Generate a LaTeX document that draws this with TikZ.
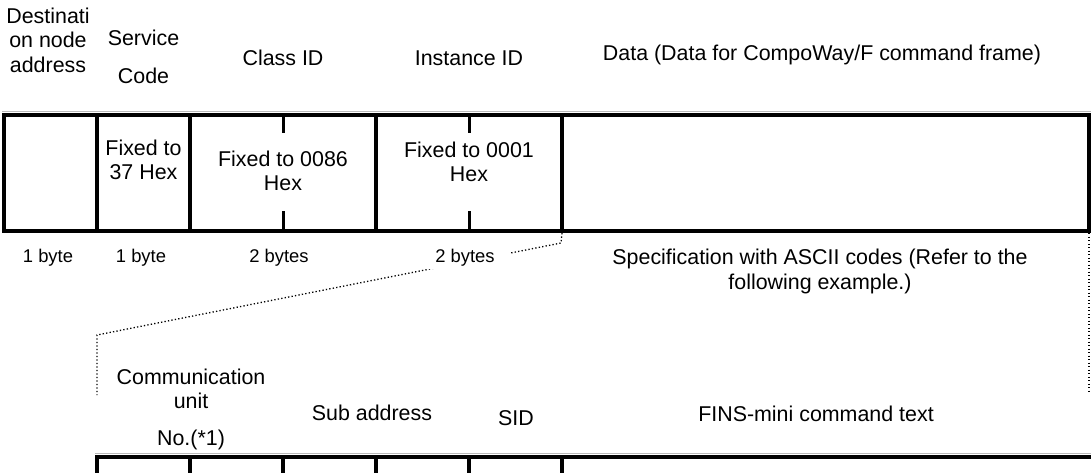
\documentclass[tikz,border=0pt]{standalone}
\usepackage{fontspec}
\setmainfont{Liberation Sans}
\usepackage{tikz}

\begin{document}
\begin{tikzpicture}[x=1pt, y=-1pt,
  hbar/.style={line width=4.5pt},
  vbar/.style={line width=3.5pt},
  tickmark/.style={line width=3pt},
  edge/.style={line width=0.7pt, gray!55},
  leader/.style={line width=1.3pt, dash pattern=on 1.3pt off 2.2pt},
  lbl/.style={font=\fontsize{21.4}{24.5}\selectfont, align=center, inner sep=0pt},
  bytes/.style={font=\fontsize{18.4}{22}\selectfont, inner sep=0pt}]
  \useasboundingbox (0,0) rectangle (1091,472);
  \clip (0,0) rectangle (1091,472);
  % command frame
  \draw[edge] (2,111.5) -- (1091,111.5);
  \foreach \x in {4,97,190,376,562,1089}
    \draw[vbar] (\x,115) -- (\x,231);
  \foreach \x in {283,469} {
    \draw[tickmark] (\x,115) -- (\x,133);
    \draw[tickmark] (\x,211) -- (\x,231);
  }
  \draw[hbar] (2.25,115) -- (1090.75,115);
  \draw[hbar] (2.25,231) -- (1090.75,231);
  % FINS-mini frame
  \draw[edge] (95,453.5) -- (1091,453.5);
  \draw[hbar] (95.25,457) -- (1095,457);
  \foreach \x in {97,190,283,376,469,562}
    \draw[vbar] (\x,457) -- (\x,480);
  % leaders
  \coordinate (cmdTop) at (562,233);
  \coordinate (cmdBend) at (561,243);
  \coordinate (unitBend) at (97,335);
  \coordinate (unitEnd) at (97,395);
  \coordinate (dataTop) at (1089,233);
  \coordinate (dataEnd) at (1089,393);
  \draw[leader] (cmdTop) -- (cmdBend) -- (unitBend) -- (unitEnd);
  \draw[leader] (dataTop) -- (dataEnd);
  % field names
  \node[lbl, anchor=north] (dest) at (48,7.7) {Destinati\\on node\\address};
  \node[lbl, anchor=north] (svc) at (143.5,29.7) {Service\\[14pt]Code};
  \node[lbl, anchor=base] (cls) at (283,65) {Class ID};
  \node[lbl, anchor=base] (inst) at (469,65) {Instance ID};
  \node[lbl, anchor=base] (data) at (822,60) {Data (Data for CompoWay/F command frame)};
  % field contents
  \node[lbl, anchor=north] (svcval) at (143.5,139.7) {Fixed to\\37 Hex};
  \node[lbl, anchor=north] (clsval) at (283,150.7) {Fixed to 0086\\Hex};
  \node[lbl, anchor=north] (instval) at (469,141.7) {Fixed to 0001\\Hex};
  % sizes
  \node[bytes, anchor=base] (destlen) at (48,262) {1 byte};
  \node[bytes, anchor=base] (svclen) at (141,262) {1 byte};
  \node[bytes, anchor=base] (clslen) at (279,262) {2 bytes};
  \node[bytes, anchor=base, fill=white, inner xsep=16pt, inner ysep=3pt] (instlen) at (465,262) {2 bytes};
  \node[lbl, anchor=north] (spec) at (820,249) {Specification with ASCII codes (Refer to the\\following example.)};
  % FINS-mini fields
  \node[lbl, anchor=north] (unit) at (191,368.7) {Communication\\unit\\[12.5pt]No.(*1)};
  \node[lbl, anchor=base] (sub) at (372,420) {Sub address};
  \node[lbl, anchor=base] (sid) at (516,425) {SID};
  \node[lbl, anchor=base] (fins) at (816,421) {FINS-mini command text};
\end{tikzpicture}
\end{document}
